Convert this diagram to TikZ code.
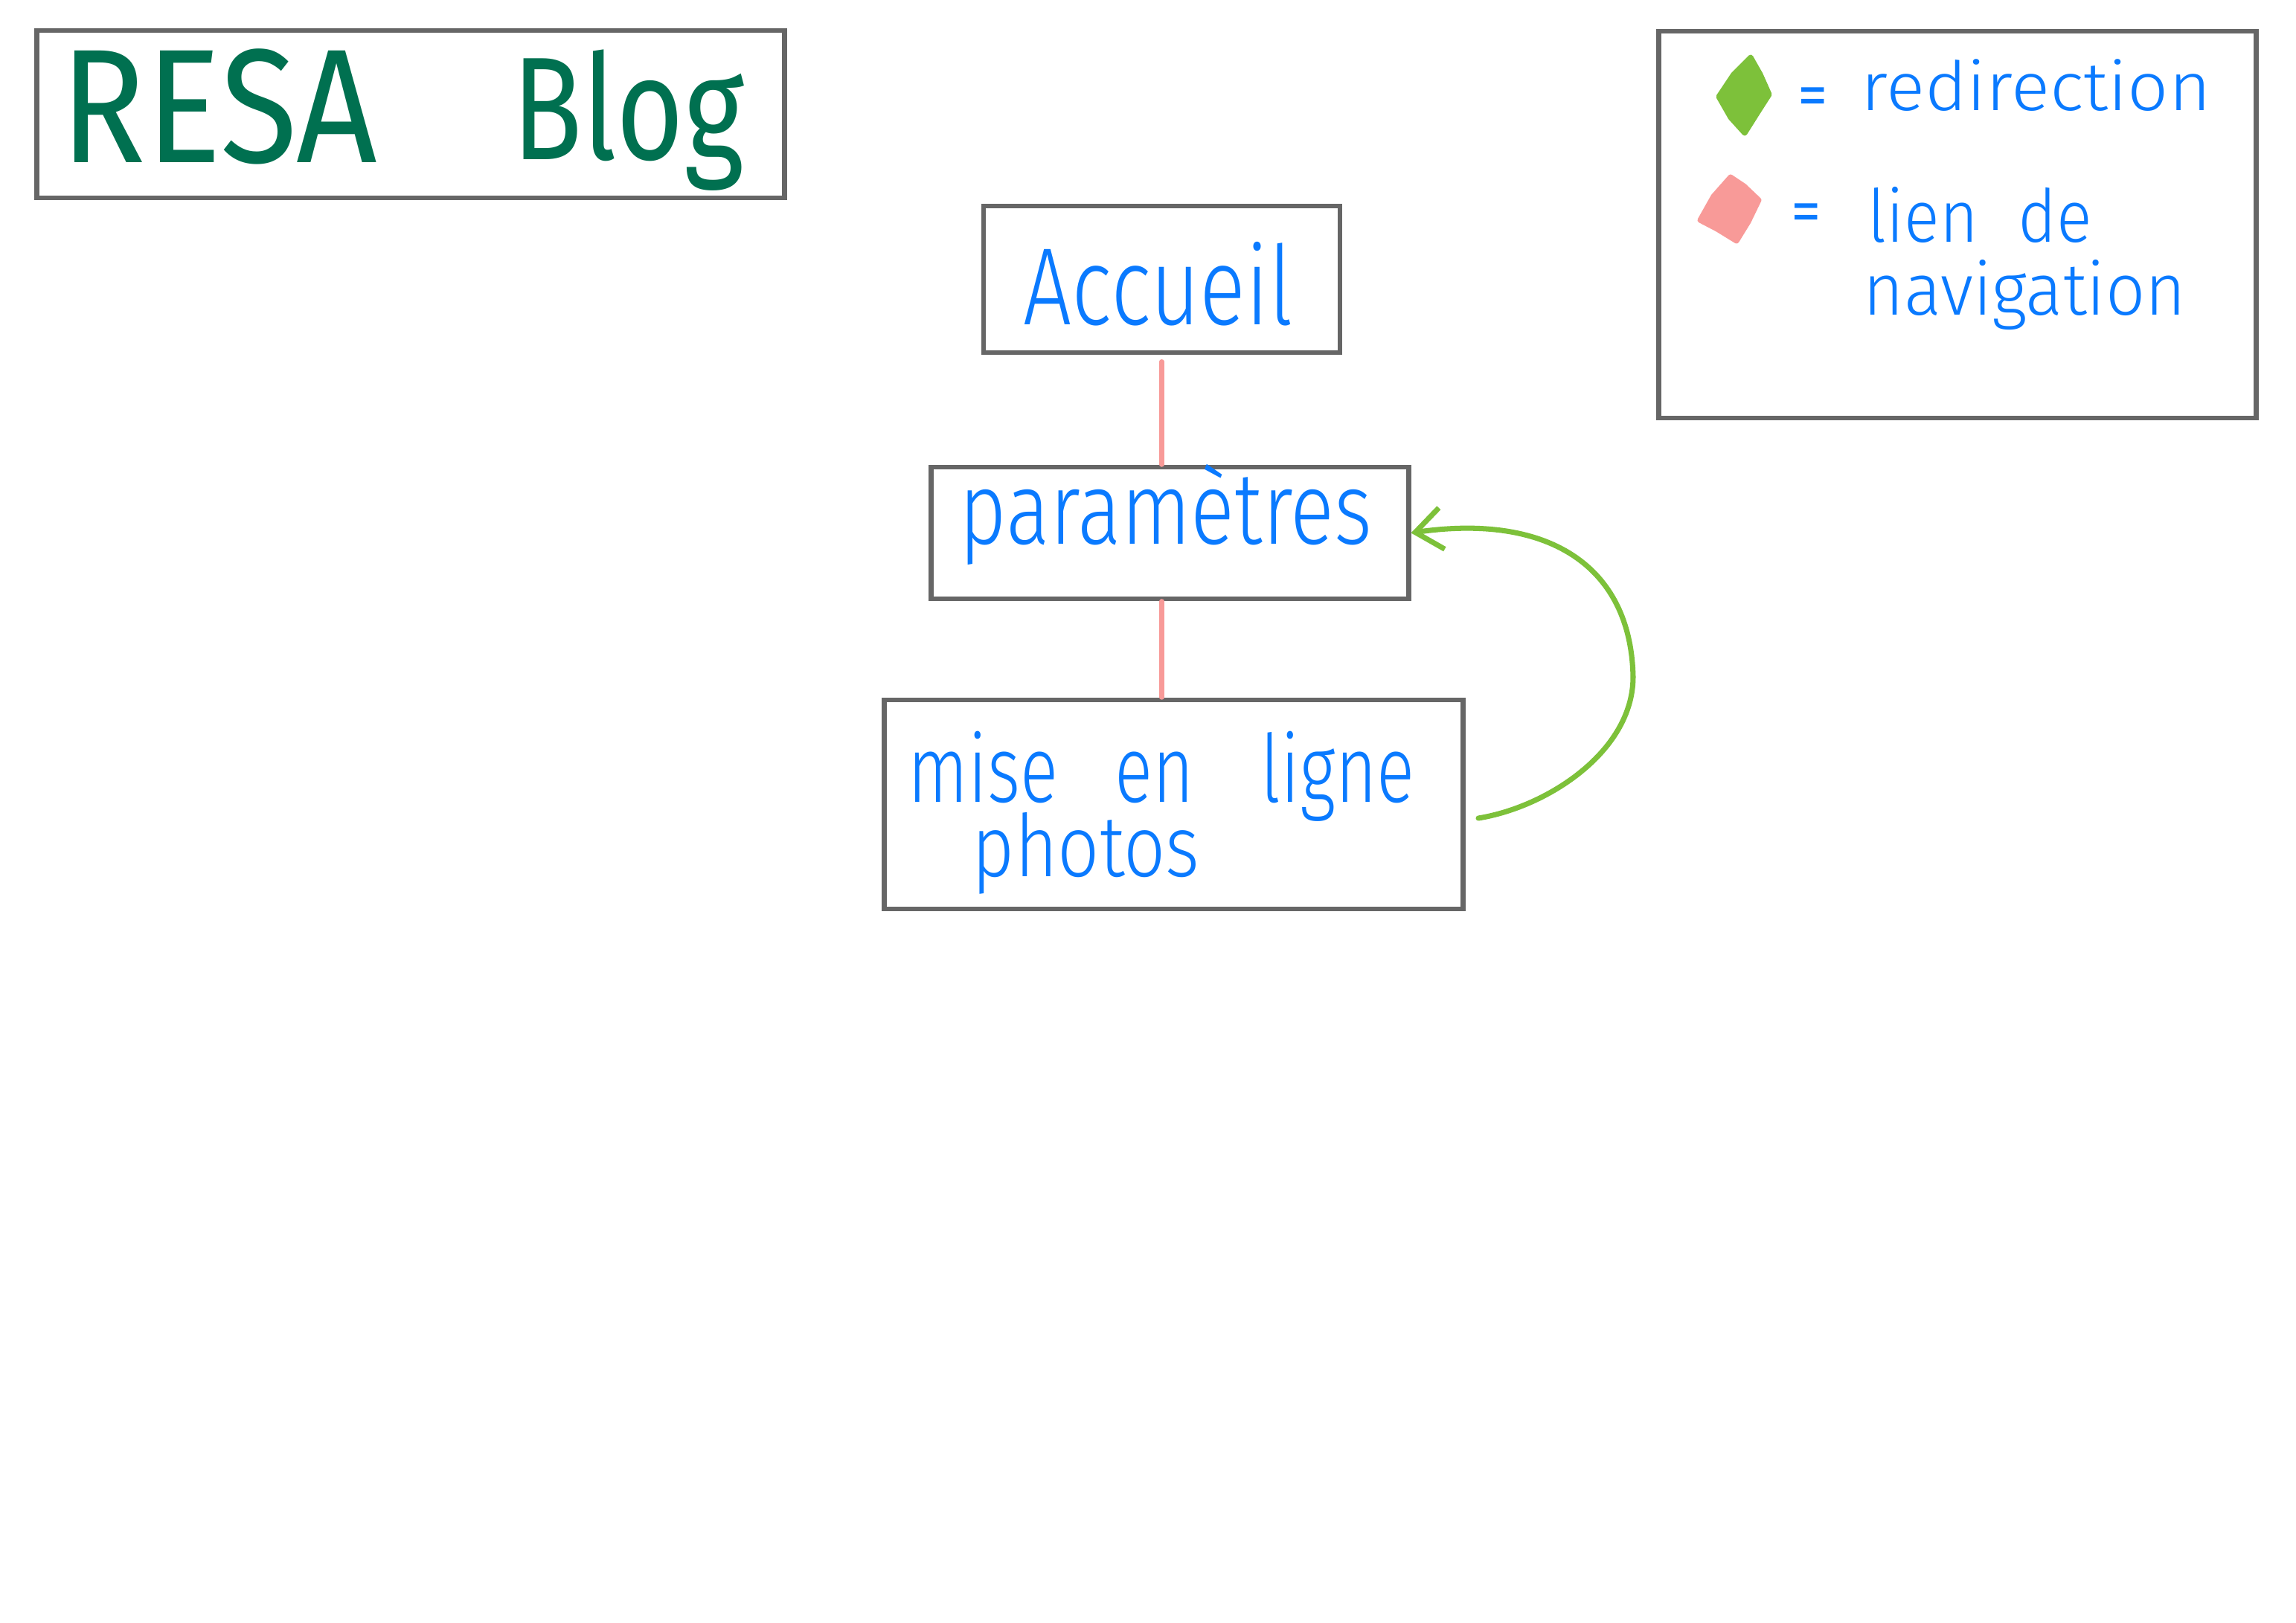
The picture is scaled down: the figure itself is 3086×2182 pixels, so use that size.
\documentclass[tikz,border=0pt]{standalone}
\usepackage{fontspec}
\usepackage{graphicx}
\usetikzlibrary{arrows.meta}
\setmainfont{Fira Sans}
\newfontfamily\hand{Fira Sans Light}
\definecolor{ink}{RGB}{10,122,255}
\definecolor{titlegreen}{RGB}{0,112,80}
\definecolor{framegray}{RGB}{102,102,102}
\definecolor{navpink}{RGB}{248,154,152}
\definecolor{redirgreen}{RGB}{125,193,58}
\newcommand{\hs}[2]{\scalebox{#1}[1]{#2}}
\newcommand{\fs}[1]{\fontsize{#1}{#1}\selectfont}

\begin{document}
\begin{tikzpicture}[x=0.01cm,y=-0.01cm,
  pagebox/.style={draw=framegray,line width=1.9pt,inner sep=0pt},
  handtext/.style={inner sep=0pt,text=ink,font=\hand},
  titletext/.style={inner sep=0pt,anchor=base west,text=titlegreen},
  navlink/.style={draw=navpink,line width=1.8pt,line cap=round},
  redirlink/.style={draw=redirgreen,line width=2pt,line cap=round,
    -{Straight Barb[length=0.36cm,width=0.56cm,line width=2pt]}}]

% canvas
\fill[white] (0,0) rectangle (3086,2182);
\useasboundingbox (0,0) rectangle (3086,2182);

% title
\node[pagebox,minimum width=10.04cm,minimum height=2.25cm] (title) at (552,153.5) {};
\node[titletext,font=\fs{62}] (resa) at (81,219) {\hs{0.87}{RESA}};
\node[titletext,font=\fs{56}] (blog) at (688,215) {\hs{0.79}{Blog}};

% legend
\node[pagebox,minimum width=8.03cm,minimum height=5.2cm] (legend) at (2631,302) {};
\fill[redirgreen,draw=redirgreen,line width=2pt,line join=round]
  (2353,77) -- (2366,100) -- (2378,127) -- (2362,152) -- (2345,179) -- (2326,158) -- (2310,130) -- (2330,100) -- cycle;
\fill[navpink,draw=navpink,line width=2pt,line join=round]
  (2326,238) -- (2344,250) -- (2364,269) -- (2350,298) -- (2334,324) -- (2308,308) -- (2285,296) -- (2303,264) -- cycle;
\node[inner sep=0pt,text=ink,font=\fs{23}] (eqa) at (2437,137) {=};
\node[inner sep=0pt,text=ink,font=\fs{23}] (eqb) at (2428,293) {=};
\node[handtext,anchor=base west,font=\hand\fs{26}] (redir) at (2501,149) {\hs{1.06}{redirection}};
\node[handtext,anchor=base west,font=\hand\fs{28}] (lien) at (2510,326) {\hs{0.9}{lien\hspace{0.6em}de}};
\node[handtext,anchor=base west,font=\hand\fs{28}] (navig) at (2504,424) {\hs{0.95}{navigation}};

% pages
\node[pagebox,minimum width=4.79cm,minimum height=1.97cm] (acc) at (1561.5,375.5) {};
\node[pagebox,minimum width=6.41cm,minimum height=1.77cm] (param) at (1572.5,716.5) {};
\node[pagebox,minimum width=7.77cm,minimum height=2.81cm] (mise) at (1577.5,1081.5) {};
\node[handtext,anchor=base,font=\hand\fs{42}] (acctext) at (1557,437) {\hs{0.78}{Accueil}};
\node[handtext,anchor=base,font=\hand\fs{39}] (paramtext) at (1567,732) {\hs{0.8}{paramètres}};
\node[handtext,anchor=base west,font=\hand\fs{36}] (misetext) at (1220,1078)
  {\begin{tabular}[t]{@{}l@{}}\hs{0.75}{mise\hspace{0.8em}en\hspace{0.95em}ligne}\\[-7.3pt]
   \hspace{0.86cm}{\fs{33}\hs{0.85}{photos}}\end{tabular}};

% navigation links
\draw[navlink] ([yshift=-2.5pt]acc.south) -- (acc.south |- param.north);
\draw[navlink] (acc.south |- param.south) -- (acc.south |- mise.north);

% redirection
\coordinate (gstart) at (1987,1100);
\draw[redirlink] (gstart) .. controls (2080,1085) and (2195,1010) .. (2195,910)
  .. controls (2192,760) and (2080,690) .. (param.east);
\end{tikzpicture}
\end{document}
